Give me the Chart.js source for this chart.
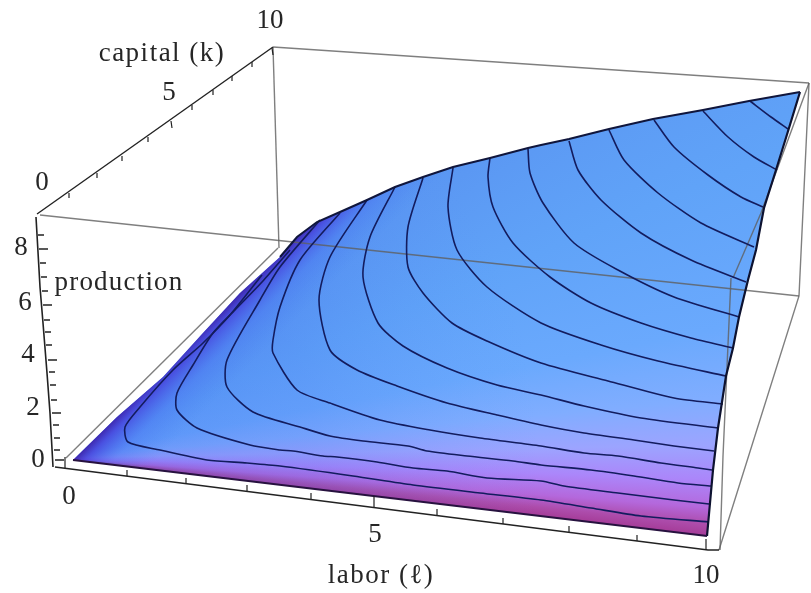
<!DOCTYPE html>
<html>
<head>
<meta charset="utf-8">
<style>html,body{margin:0;padding:0;background:#fff;overflow:hidden}canvas{display:block;filter:blur(0.45px)}</style>
<script src="https://cdn.jsdelivr.net/npm/chart.js@4"></script>
</head>
<body>
<canvas id="c" width="811" height="593"></canvas>
<script>
// Everything is read from the picture in its projected plane (the 3D view has no native scale).
const surfaceOutline = [[73,460],[707,536],[713,470],[718,428],[726,376],[733,348],[739,317],[748,280],[756,250],[764,208],[776,170],[789,128],[800,92],[749,101],[703,110],[653,119],[609,129],[569,139],[541,145],[528,148],[490,158],[453,167],[423,177],[395,187],[367,200],[340,212],[317,222],[297,237],[280,257],[240,293],[203,333],[163,377],[117,417]];
const contour1  = [[750,101],[771,117],[788,129]];
const contour2  = [[703,111],[728,137],[754,157],[777,170]];
const contour3  = [[654,120],[674,147],[708,175],[741,197],[763,207]];
const contour4  = [[609,130],[624,160],[658,193],[701,223],[754,247]];
const contour5  = [[569,141],[578,170],[601,200],[641,233],[691,260],[746,282]];
const contour6  = [[528,149],[530,173],[543,203],[574,243],[618,270],[674,297],[739,317]];
const contour7  = [[490,158],[488,177],[493,207],[513,243],[550,277],[591,303],[641,323],[691,338],[733,348]];
const contour8  = [[453,168],[448,207],[457,250],[487,287],[541,323],[601,345],[658,361],[726,376]];
const contour9  = [[423,178],[408,227],[408,267],[423,293],[452,323],[487,341],[541,363],[608,381],[674,398],[723,404]];
const contour10 = [[395,187],[370,237],[363,277],[378,323],[403,346],[447,368],[497,385],[541,395],[584,406],[641,418],[718,428]];
const contour11 = [[367,200],[330,257],[319,300],[330,350],[357,370],[397,386],[447,403],[497,415],[541,425],[584,433],[634,440],[674,446],[714,451]];
const contour12 = [[340,213],[300,260],[280,307],[273,340],[273,353],[297,390],[330,403],[380,420],[430,430],[480,438],[541,446],[584,453],[618,456],[661,463],[698,468],[712,470]];
const contour13 = [[320,220],[280,267],[260,300],[227,360],[227,387],[253,412],[300,427],[330,436],[363,441],[408,446],[427,451],[467,456],[513,461],[541,465],[591,470],[634,476],[678,483],[711,486]];
const contour14 = [[290,250],[262,282],[235,310],[213,333],[193,365],[177,393],[177,410],[197,428],[250,445],[280,450],[293,451],[323,456],[337,457],[377,462],[413,468],[447,471],[487,478],[541,481],[564,486],[618,493],[674,500],[709,504]];
const contour15 = [[262,275],[230,315],[203,343],[173,370],[140,407],[125,427],[128,442],[160,450],[207,460],[247,463],[280,466],[353,476],[413,485],[480,493],[541,500],[591,508],[641,516],[709,522]];
const contours = [contour1,contour2,contour3,contour4,contour5,contour6,contour7,contour8,contour9,contour10,contour11,contour12,contour13,contour14,contour15];

const boxEdges = [
  [[273,47],[809,83]],
  [[273,47],[279,248]],
  [[40,215],[799,296]],
  [[809,83],[799,296],[719,550]],
  [[809,83],[761,213],[733,278]],
  [[731,278],[723,456],[720,550]],
  [[66,458],[278,248]]
];
const capitalAxis = [[37,214],[273,47]];
const laborAxis = [[55,467],[708,550],[719,550]];
const productionAxis = [[36,217],[40,287],[43,323],[47,373],[50,413],[53,467]];

const capitalTicks = [[69,193],[97,173],[122,156],[148,137],[171,121],[192,105],[213,90],[232,76],[252,62],[272,48]];
const capitalValues = [1,2,3,4,5,6,7,8,9,10];
const laborTicks = [[65,468],[127,476],[186,484],[247,491],[311,499],[374,507],[437,515],[503,524],[569,532],[637,541],[706,550]];
const laborValues = [0,1,2,3,4,5,6,7,8,9,10];
const productionTicks = [[38,235],[39,249],[40,263],[41,277],[42,291],[43,305],[44,320],[45,332],[46,345],[48,360],[49,372],[50,385],[51,400],[52,413],[53,425],[54,438],[54,450],[55,460]];
const productionValues = [8.5,8,7.5,7,6.5,6,5.5,5,4.5,4,3.5,3,2.5,2,1.5,1,0.5,0];

const labelTexts = ['capital (k)','production','labor (\u2113)','0','5','10','0','2','4','6','8','0','5','10'];
const labelAnchors = [[162,54],[119,283],[381,576],[42,183],[169,93],[270,21],[38,460],[33,408],[28,355],[25,303],[21,248],[69,497],[375,535],[706,576]];

function pts(a){return a.map(p=>({x:p[0],y:p[1]}));}
function tickSegments(list,values,majorEvery,dx,dy,mdx,mdy){
  const out=[];
  list.forEach((p,i)=>{
    const major=Number.isInteger(values[i]/majorEvery);
    out.push({x:p[0],y:p[1]},{x:p[0]+(major?mdx:dx),y:p[1]+(major?mdy:dy)},{x:NaN,y:NaN});
  });
  return out;
}
function stopsOn(g,stops){stops.forEach(s=>g.addColorStop(s[0],s[1]));return g;}
// colour fans out from the near corner: angle above the front edge, in degrees
const fanStops=[[0,'#a53c98'],[1,'#ad4cab'],[2.5,'#b468dc'],[5,'#ab86fa'],[8,'#9ca4ff'],[12,'#80adff'],[18,'#6aa9fd'],[30,'#60a3f8'],[42,'#5b98f3'],[60,'#5289ee']];
const baseFill=ctx=>{
  const edgeDeg=6.87, spanDeg=70;
  const g=ctx.chart.ctx.createConicGradient((edgeDeg-spanDeg)*Math.PI/180,60,458);
  fanStops.slice().reverse().forEach(s=>g.addColorStop((spanDeg-s[0])/360,s[1]));
  g.addColorStop(spanDeg/360+0.001,fanStops[0][1]);
  return g;
};
const edgeFill=ctx=>stopsOn(ctx.chart.ctx.createLinearGradient(180,352,222,394),[
  [0,'rgba(60,30,165,0.95)'],[0.16,'rgba(70,65,220,0.8)'],[0.5,'rgba(70,110,240,0.35)'],[1,'rgba(70,130,240,0)']]);
const nearFill=ctx=>stopsOn(ctx.chart.ctx.createRadialGradient(60,458,30,60,458,480),[
  [0,'rgba(60,95,235,0.28)'],[0.5,'rgba(65,110,238,0.2)'],[1,'rgba(80,140,245,0)']]);

const layers=[];
function add(d){layers.push(Object.assign({showLine:true,pointRadius:0,tension:0,fill:false,spanGaps:false},d));}
add({label:'surface',data:pts(surfaceOutline),borderWidth:0,borderColor:'transparent',fill:'shape',backgroundColor:baseFill});
add({label:'surface shade near corner',data:pts(surfaceOutline),borderWidth:0,borderColor:'transparent',fill:'shape',backgroundColor:nearFill});
add({label:'surface shade edge',data:pts(surfaceOutline),borderWidth:0,borderColor:'transparent',fill:'shape',backgroundColor:edgeFill});
boxEdges.forEach((e,i)=>add({label:'box '+i,data:pts(e),borderColor:'rgba(95,95,95,0.8)',borderWidth:1.4}));
contours.forEach((c,i)=>add({label:'contour '+(i+1),data:pts(c),borderColor:'#131c5e',borderWidth:1.6,tension:0.25}));
add({label:'surface edge top',data:pts(surfaceOutline.slice(12,29)),borderColor:'#10163c',borderWidth:2});
add({label:'surface edge right',data:pts(surfaceOutline.slice(1,13)),borderColor:'#0d1230',borderWidth:2.2});
add({label:'surface edge bottom',data:pts(surfaceOutline.slice(0,2)),borderColor:'#27123f',borderWidth:1.8});
add({label:'capital axis',data:pts(capitalAxis),borderColor:'#222',borderWidth:1.4});
add({label:'labor axis',data:pts(laborAxis),borderColor:'#222',borderWidth:1.5});
add({label:'production axis',data:pts(productionAxis),borderColor:'#222',borderWidth:1.6});
add({label:'capital ticks',data:tickSegments(capitalTicks,capitalValues,5,0,5,1,7),borderColor:'#222',borderWidth:1.2});
add({label:'labor ticks',data:tickSegments(laborTicks,laborValues,5,0,-6,0,-11),borderColor:'#222',borderWidth:1.2});
add({label:'production ticks',data:tickSegments(productionTicks,productionValues,2,6,0,9,0),borderColor:'#222',borderWidth:1.4});
layers.forEach((d,i)=>d.order=layers.length-i);

const labelPlugin={id:'labels',afterDatasetsDraw(chart){
  const c=chart.ctx,sx=chart.scales.x,sy=chart.scales.y;
  c.save();c.fillStyle='#262626';c.textAlign='center';c.textBaseline='middle';
  c.font='27px "Liberation Serif"';
  labelTexts.forEach((t,i)=>{
    c.letterSpacing=t==='production'?'1.2px':(t.length>3?'1.5px':'0px');
    c.fillText(t,sx.getPixelForValue(labelAnchors[i][0]),sy.getPixelForValue(labelAnchors[i][1]));
  });
  c.restore();
}};

new Chart(document.getElementById('c'),{
  type:'scatter',
  data:{datasets:layers},
  plugins:[labelPlugin],
  options:{
    responsive:false,animation:false,
    layout:{padding:0},
    plugins:{legend:{display:false},tooltip:{enabled:false},title:{display:false}},
    scales:{
      x:{type:'linear',min:0,max:811,display:false},
      y:{type:'linear',min:0,max:593,reverse:true,display:false}
    }
  }
});
</script>
</body>
</html>
